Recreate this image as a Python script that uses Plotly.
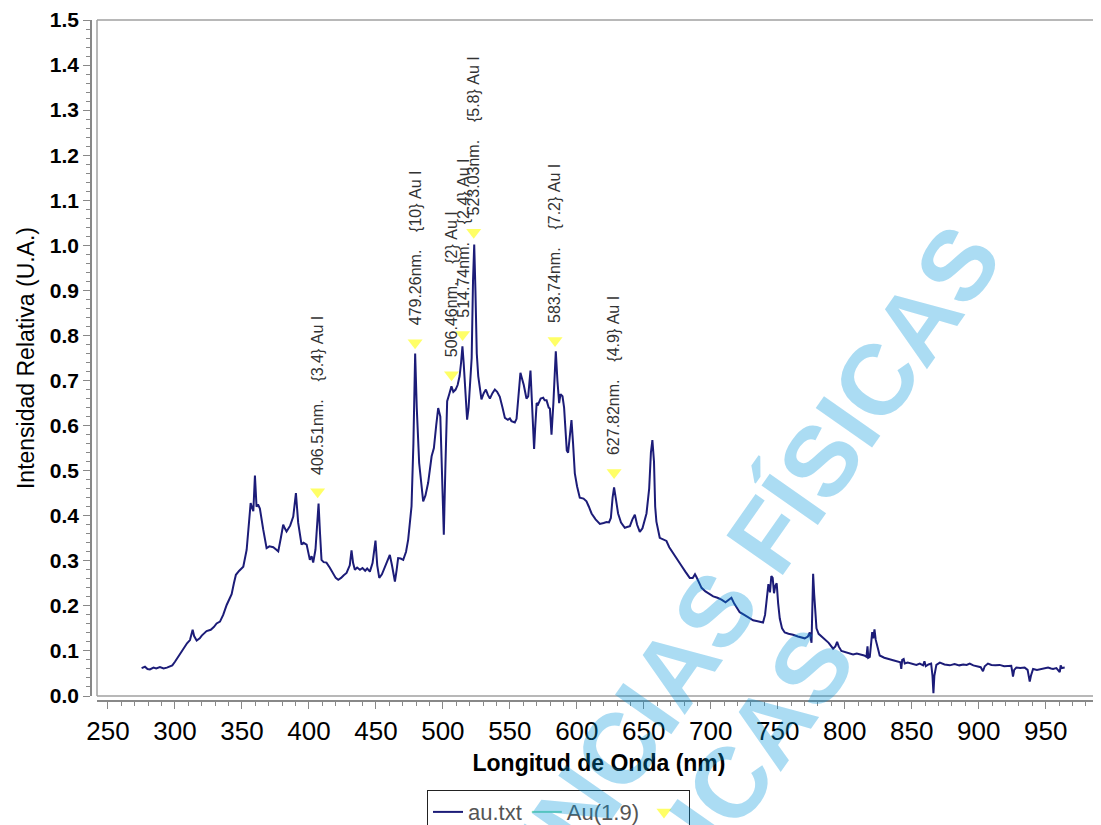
import plotly.graph_objects as go

# spectrum (wavelength nm, relative intensity)
wl = [275.1, 277.6, 279.5, 281.3, 284.0, 286.0, 288.8, 291.5, 294.0, 296.3, 298.0, 300.0,
      303.7, 306.2, 309.0, 311.2, 313.2, 314.3, 316.2, 318.5, 320.0, 323.6, 326.7, 329.0,
      331.1, 333.6, 336.0, 338.6, 340.5, 342.3, 344.0, 345.5, 348.0, 351.0, 353.5, 355.0,
      356.5, 357.5, 358.5, 359.7, 360.9, 362.0, 363.4, 365.9, 368.4, 370.5, 373.4, 375.5,
      377.1, 379.0, 380.8, 382.0, 383.3, 386.0, 388.3, 390.3, 392.0, 394.5, 396.0, 398.3,
      399.5, 400.7, 402.0, 403.2, 404.9, 407.2, 408.3, 409.4, 411.0, 413.1, 415.5, 418.1,
      420.0, 421.9, 424.0, 426.0, 428.1, 430.5, 431.8, 433.0, 434.3, 436.0, 438.1, 440.0,
      442.0, 443.5, 445.5, 447.5, 449.7, 451.0, 452.5, 454.5, 456.6, 458.5, 460.4, 462.0,
      464.2, 465.5, 466.6, 468.5, 470.4, 472.5, 474.1, 476.6, 478.0, 479.3, 480.5, 482.3,
      484.0, 485.3, 487.0, 489.0, 491.6, 493.3, 495.0, 496.5, 498.1, 499.5, 500.7, 501.8,
      503.2, 504.8, 506.4, 507.8, 509.5, 511.0, 512.5, 513.6, 514.6, 515.5, 516.8, 518.1,
      519.2, 520.1, 521.5, 522.5, 523.4, 524.3, 525.3, 526.4, 527.5, 528.8, 530.5, 532.1,
      533.6, 535.1, 537.0, 538.8, 540.5, 542.5, 544.5, 546.3, 548.5, 550.0, 551.2, 553.7,
      555.0, 556.5, 557.9, 559.0, 560.4, 562.4, 563.7, 565.4, 566.5, 567.4, 568.1, 569.0,
      570.0, 571.1, 573.0, 574.9, 576.0, 577.4, 579.0, 579.9, 581.1, 582.5, 583.4, 584.3,
      585.5, 586.8, 587.8, 589.3, 590.5, 591.5, 592.5, 593.5, 595.0, 596.0, 597.2, 598.5,
      600.2, 602.2, 605.0, 607.2, 609.0, 611.0, 614.0, 617.2, 620.0, 622.2, 624.0, 625.4,
      626.7, 627.8, 629.0, 630.8, 633.0, 635.8, 637.5, 639.6, 641.5, 643.3, 645.0, 647.0,
      649.0, 652.0, 654.0, 655.3, 656.4, 657.6, 658.5, 659.4, 661.9, 664.0, 666.9, 669.0,
      671.9, 675.0, 678.1, 681.0, 684.3, 686.5, 688.2, 689.3, 691.0, 693.1, 696.0, 699.0,
      701.8, 705.0, 708.0, 711.0, 713.0, 715.4, 717.5, 719.5, 721.6, 725.0, 728.5, 731.6,
      735.0, 737.5, 739.0, 740.5, 742.0, 743.0, 744.2, 745.2, 746.2, 747.2, 748.2, 749.2,
      750.3, 751.5, 753.2, 755.2, 758.0, 761.4, 765.0, 768.0, 770.1, 772.5, 773.9, 775.2,
      775.9, 776.4, 777.2, 778.0, 778.9, 780.5, 782.6, 785.0, 788.0, 791.3, 793.0, 794.3,
      795.5, 797.5, 800.0, 803.0, 806.2, 809.0, 812.0, 814.5, 816.2, 817.0, 817.6, 818.7,
      819.8, 820.5, 821.3, 822.2, 823.1, 824.5, 826.1, 829.5, 833.6, 837.0, 840.0, 841.5,
      842.2, 842.9, 844.0, 844.8, 847.0, 850.0, 853.5, 856.0, 858.5, 859.5, 860.5, 862.5,
      864.5, 865.5, 866.2, 866.9, 868.4, 871.0, 874.5, 878.4, 882.0, 885.5, 888.5, 891.0,
      893.3, 896.0, 899.0, 901.5, 903.2, 904.5, 906.9, 909.5, 912.5, 915.6, 919.0, 922.0,
      924.3, 925.0, 925.6, 926.5, 928.1, 931.0, 934.3, 936.5, 938.1, 939.0, 940.6, 943.5,
      946.8, 949.5, 951.8, 954.0, 955.5, 958.0, 960.5, 961.2, 962.0, 964.2]

intensity = [0.062, 0.065, 0.060, 0.059, 0.063, 0.061, 0.064, 0.061, 0.063, 0.065, 0.068, 0.076,
             0.093, 0.106, 0.117, 0.124, 0.147, 0.133, 0.123, 0.128, 0.134, 0.144, 0.147, 0.153,
             0.161, 0.165, 0.180, 0.202, 0.213, 0.226, 0.250, 0.269, 0.278, 0.287, 0.324, 0.380,
             0.428, 0.418, 0.410, 0.489, 0.420, 0.425, 0.416, 0.369, 0.328, 0.332, 0.330, 0.325,
             0.321, 0.350, 0.380, 0.372, 0.365, 0.378, 0.398, 0.450, 0.384, 0.336, 0.340, 0.336,
             0.320, 0.302, 0.310, 0.296, 0.325, 0.427, 0.360, 0.302, 0.297, 0.296, 0.285, 0.273,
             0.262, 0.258, 0.262, 0.268, 0.273, 0.290, 0.323, 0.295, 0.280, 0.285, 0.280, 0.284,
             0.278, 0.283, 0.276, 0.295, 0.345, 0.290, 0.262, 0.270, 0.285, 0.300, 0.313, 0.290,
             0.254, 0.280, 0.306, 0.305, 0.302, 0.320, 0.347, 0.421, 0.560, 0.760, 0.640, 0.517,
             0.460, 0.432, 0.445, 0.473, 0.532, 0.550, 0.600, 0.639, 0.620, 0.500, 0.358, 0.500,
             0.654, 0.670, 0.687, 0.675, 0.680, 0.690, 0.710, 0.740, 0.776, 0.740, 0.660, 0.613,
             0.640, 0.680, 0.750, 0.920, 1.002, 0.900, 0.760, 0.710, 0.680, 0.658, 0.672, 0.680,
             0.668, 0.660, 0.672, 0.680, 0.675, 0.664, 0.640, 0.617, 0.613, 0.616, 0.610, 0.607,
             0.615, 0.680, 0.717, 0.705, 0.690, 0.660, 0.665, 0.722, 0.650, 0.600, 0.548, 0.600,
             0.650, 0.647, 0.660, 0.662, 0.656, 0.656, 0.640, 0.638, 0.580, 0.650, 0.730, 0.765,
             0.700, 0.650, 0.670, 0.665, 0.640, 0.600, 0.545, 0.540, 0.590, 0.612, 0.560, 0.494,
             0.465, 0.440, 0.438, 0.432, 0.420, 0.405, 0.392, 0.382, 0.384, 0.386, 0.385, 0.395,
             0.440, 0.463, 0.440, 0.405, 0.385, 0.373, 0.375, 0.377, 0.392, 0.402, 0.380, 0.364,
             0.372, 0.405, 0.460, 0.540, 0.568, 0.520, 0.420, 0.387, 0.351, 0.348, 0.344, 0.330,
             0.316, 0.302, 0.289, 0.276, 0.262, 0.262, 0.270, 0.264, 0.252, 0.240, 0.232, 0.226,
             0.221, 0.218, 0.214, 0.208, 0.212, 0.218, 0.205, 0.195, 0.186, 0.180, 0.174, 0.168,
             0.166, 0.164, 0.163, 0.180, 0.225, 0.248, 0.230, 0.266, 0.262, 0.228, 0.245, 0.250,
             0.205, 0.172, 0.150, 0.141, 0.138, 0.136, 0.132, 0.130, 0.128, 0.132, 0.141, 0.118,
             0.190, 0.271, 0.225, 0.175, 0.150, 0.138, 0.132, 0.126, 0.118, 0.105, 0.110, 0.120,
             0.110, 0.100, 0.098, 0.095, 0.092, 0.094, 0.092, 0.090, 0.087, 0.110, 0.085, 0.087,
             0.120, 0.142, 0.128, 0.148, 0.125, 0.105, 0.090, 0.085, 0.082, 0.078, 0.076, 0.075,
             0.060, 0.080, 0.082, 0.072, 0.074, 0.071, 0.069, 0.072, 0.068, 0.077, 0.066, 0.070,
             0.072, 0.045, 0.006, 0.045, 0.069, 0.074, 0.070, 0.068, 0.071, 0.068, 0.070, 0.069,
             0.072, 0.068, 0.066, 0.064, 0.055, 0.066, 0.072, 0.069, 0.068, 0.069, 0.066, 0.066,
             0.067, 0.055, 0.043, 0.058, 0.063, 0.062, 0.063, 0.058, 0.032, 0.045, 0.060, 0.058,
             0.060, 0.062, 0.063, 0.061, 0.060, 0.062, 0.053, 0.068, 0.062, 0.063]

# identified Au I lines
peak_wl = [406.51, 479.26, 506.46, 514.74, 523.03, 583.74, 627.82]
peak_mark = [0.453, 0.784, 0.713, 0.802, 1.029, 0.789, 0.496]
peak_int = ["3.4", "10", "2", "2.4", "5.8", "7.2", "4.9"]

FONT = "Liberation Sans, Arial, sans-serif"
GRAY = "#888888"

fig = go.Figure()
fig.add_trace(go.Scatter(x=wl, y=intensity, mode="lines", name="au.txt",
                         line=dict(color="#1c1c78", width=2)))
fig.add_trace(go.Scatter(x=[None], y=[None], mode="lines", name="Au(1.9)",
                         line=dict(color="#7fdcb4", width=2)))
fig.add_trace(go.Scatter(x=peak_wl, y=peak_mark, mode="markers", name="",
                         marker=dict(symbol="triangle-down", size=13, color="#ffff66")))

nb = "\u00a0"
for w, m, s in zip(peak_wl, peak_mark, peak_int):
    fig.add_annotation(x=w, y=m, text=f"{w:.2f}nm.{nb * 4}{{{s}}}{nb}Au I", textangle=-90,
                       showarrow=False, xanchor="center", yanchor="bottom", yshift=15,
                       font=dict(family=FONT, size=16, color="#333333"))

# watermark (two staggered lines)
wm = dict(xref="paper", yref="paper", text="CIENCIAS FÍSICAS", textangle=-55, showarrow=False,
          xanchor="center", yanchor="middle",
          font=dict(family=FONT, size=100, color="rgba(0,150,220,0.33)", weight="bold"))
fig.add_annotation(wm, x=0.621, y=0.14)
fig.add_annotation(wm, x=0.476, y=-0.452)

frame = dict(type="line", xref="x domain", yref="y domain", line=dict(color="#a0a0a0", width=1.5))
fig.add_shape(frame, x0=0, x1=0, y0=0, y1=1)
fig.add_shape(frame, x0=0, x1=1, y0=1, y1=1)
fig.add_shape(frame, x0=0, x1=1, y0=0, y1=0)

fig.update_layout(
    width=1101, height=825,
    margin=dict(l=83, r=8, t=12, b=132),
    plot_bgcolor="white", paper_bgcolor="white",
    font=dict(family=FONT, color="black"),
    showlegend=True,
    legend=dict(orientation="h", xref="container", yref="container", x=0.5, y=0.052,
                xanchor="center", yanchor="top", bordercolor="#222222", borderwidth=1,
                bgcolor="white", font=dict(family=FONT, size=22, color="#555555")),
    xaxis=dict(range=[241.8, 991.3], domain=[6 / 1010, 1], anchor="free", position=0,
               automargin=False,
               tick0=250, dtick=50, ticks="outside", ticklen=7, tickcolor=GRAY,
               showline=True, linecolor=GRAY, linewidth=1.5, showgrid=False, zeroline=False,
               minor=dict(dtick=10, ticks="outside", ticklen=4, tickcolor=GRAY),
               tickfont=dict(family=FONT, size=26, color="black"),
               title=dict(text="<b>Longitud de Onda (nm)</b>", standoff=9,
                          font=dict(family=FONT, size=23, color="black"))),
    yaxis=dict(range=[0, 1.5], domain=[5 / 681, 1], anchor="free", position=0,
               automargin=False,
               dtick=0.1, tickformat=".1f", ticks="outside", ticklen=7, tickcolor=GRAY,
               showline=True, linecolor=GRAY, linewidth=1.5, showgrid=False, zeroline=False,
               minor=dict(dtick=0.02, ticks="outside", ticklen=4, tickcolor=GRAY),
               tickfont=dict(family=FONT, size=21, color="black", weight="bold"),
               title=dict(text="Intensidad Relativa (U.A.)", standoff=8,
                          font=dict(family=FONT, size=23, color="black"))),
)

fig.write_html("out.html")
